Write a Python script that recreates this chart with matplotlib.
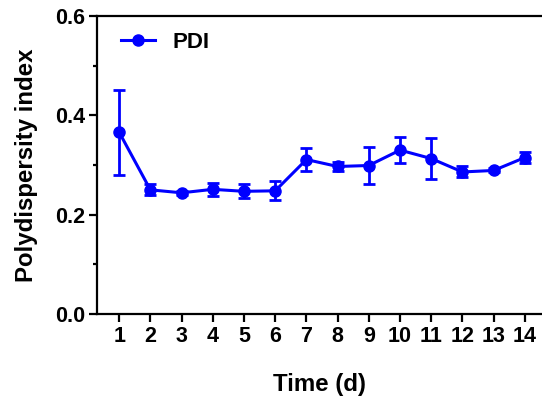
import matplotlib
matplotlib.use("Agg")
import matplotlib.pyplot as plt
from matplotlib.ticker import MultipleLocator

plt.rcParams['font.family'] = ['Liberation Sans', 'DejaVu Sans']
plt.rcParams['font.weight'] = 'bold'

days = [1, 2, 3, 4, 5, 6, 7, 8, 9, 10, 11, 12, 13, 14]
pdi = [0.366, 0.250, 0.244, 0.251, 0.247, 0.248, 0.311, 0.297,
       0.299, 0.330, 0.313, 0.286, 0.289, 0.315]
pdi_err = [0.086, 0.011, 0.004, 0.013, 0.014, 0.019, 0.024, 0.009,
           0.037, 0.026, 0.042, 0.011, 0.004, 0.011]

blue = '#0000FF'

fig = plt.figure(figsize=(5.42, 4.12), dpi=100)
ax = fig.add_axes([0.179, 0.238, 0.821, 0.723])

ax.errorbar(days, pdi, yerr=pdi_err, fmt='none', ecolor=blue,
            elinewidth=2, capsize=4.5, capthick=2)
ax.plot(days, pdi, color=blue, marker='o', markersize=8, linewidth=2.2, label='PDI')

ax.set_xlim(0.29, 14.55)
ax.set_ylim(0, 0.6)
ax.set_xticks(days)
ax.set_yticks([0.0, 0.2, 0.4, 0.6])
ax.set_yticklabels(['0.0', '0.2', '0.4', '0.6'])
ax.yaxis.set_minor_locator(MultipleLocator(0.1))

for s in ['left', 'bottom', 'top']:
    ax.spines[s].set_linewidth(1.6)
ax.spines['right'].set_visible(False)

ax.tick_params(axis='both', which='major', labelsize=15.5, width=1.6, length=5.5, pad=3)
ax.tick_params(axis='y', which='minor', width=1.6, length=3)
ax.tick_params(axis='x', which='minor', bottom=False)

ax.set_xlabel('Time (d)', fontsize=17.3, fontweight='bold', labelpad=19)
ax.set_ylabel('Polydispersity index', fontsize=17.3, fontweight='bold', labelpad=12)

leg = ax.legend(loc='upper left', frameon=False, fontsize=16, handlelength=1.5,
                handletextpad=0.8, borderaxespad=0.3, bbox_to_anchor=(0.02, 1.0))

fig.savefig('out.png', dpi=100)
